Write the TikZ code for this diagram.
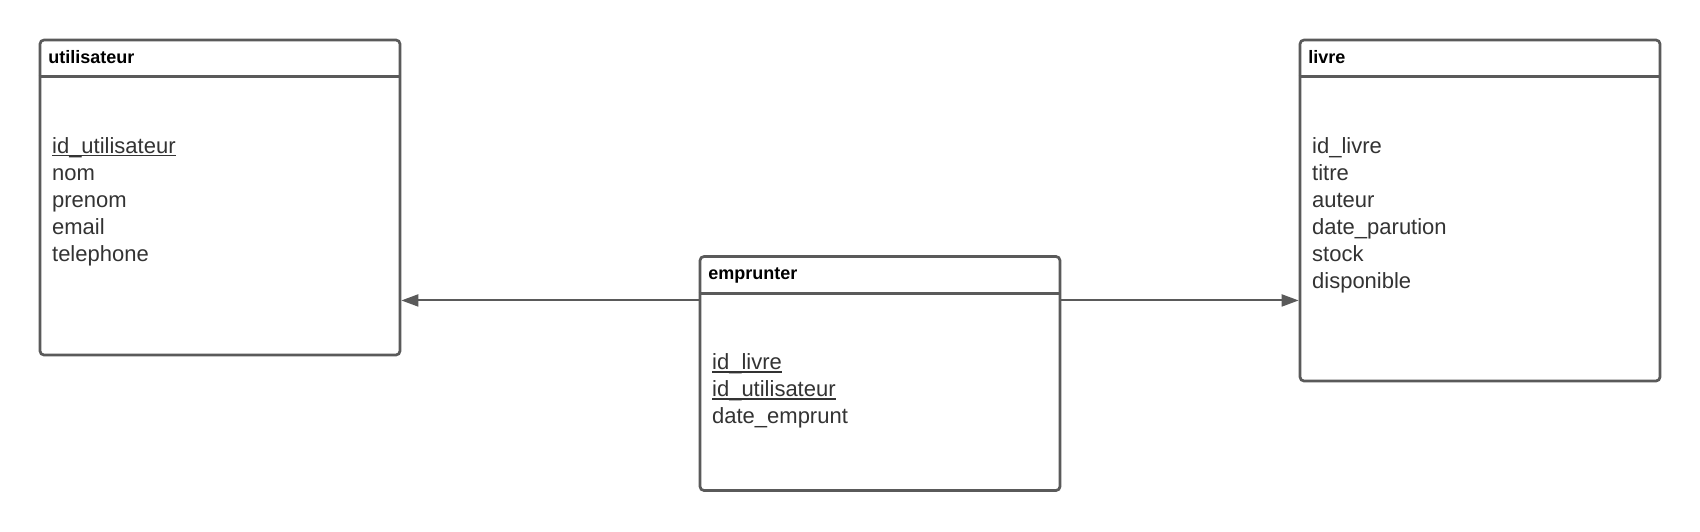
\documentclass[tikz,border=0pt]{standalone}
\usepackage{fontspec}
\setmainfont{Liberation Sans}
\usetikzlibrary{arrows.meta}
\definecolor{bordergray}{HTML}{5A5A5A}
\definecolor{textgray}{HTML}{333333}
\newcommand\pkey[1]{\setbox0\hbox{#1}\rlap{\rule[-3pt]{\wd0}{1.4pt}}\box0}
\begin{document}
\begin{tikzpicture}[x=1pt,y=-1pt,
  entity/.style={draw=bordergray, line width=2.7pt, rounded corners=4pt, fill=white, inner sep=0pt, minimum width=360pt},
  sepline/.style={draw=bordergray, line width=2.7pt},
  hdr/.style={font=\fontsize{18}{21}\selectfont\bfseries, text=black, inner sep=0pt, anchor=base west},
  attr/.style={font=\fontsize{22}{27}\selectfont, text=textgray, inner sep=0pt, anchor=base west},
  link/.style={draw=bordergray, line width=2pt, -{Triangle[length=17pt,width=12pt]}}]
\useasboundingbox[fill=white] (0,0) rectangle (1700,531);

% entities
\node[entity, minimum height=315pt] (utilisateur) at (220,197.5) {};
\node[entity, minimum height=341pt] (livre) at (1480,210.5) {};
\node[entity, minimum height=234pt] (emprunter) at (880,373.5) {};

% header separators
\foreach \e in {utilisateur,livre,emprunter}
  \draw[sepline] ([yshift=-38pt]\e.north west) -- ([yshift=-38pt]\e.north east);

% headers
\node[hdr] (hu) at ([xshift=9.6pt,yshift=-24.6pt]utilisateur.north west) {utilisateur};
\node[hdr] (hl) at ([xshift=9.6pt,yshift=-24.6pt]livre.north west) {livre};
\node[hdr] (he) at ([xshift=9.6pt,yshift=-24.6pt]emprunter.north west) {emprunter};

% attributes
\foreach \t [count=\i] in {\pkey{id\_utilisateur},nom,prenom,email,telephone}
  \node[attr] (au\i) at ([xshift=13.3pt,yshift={-114.4pt-27pt*(\i-1)}]utilisateur.north west) {\t};
\foreach \t [count=\i] in {id\_livre,titre,auteur,date\_parution,stock,disponible}
  \node[attr] (al\i) at ([xshift=13.3pt,yshift={-114.4pt-27pt*(\i-1)}]livre.north west) {\t};
\foreach \t [count=\i] in {\pkey{id\_livre},\pkey{id\_utilisateur},date\_emprunt}
  \node[attr] (ae\i) at ([xshift=13.3pt,yshift={-114.4pt-27pt*(\i-1)}]emprunter.north west) {\t};

% connectors
\coordinate (eL) at ([yshift=-45.3pt]emprunter.north west);
\coordinate (eR) at ([yshift=-45.3pt]emprunter.north east);
\draw[link] (eL) -- (eL -| utilisateur.east);
\draw[link] (eR) -- (eR -| livre.west);
\end{tikzpicture}
\end{document}
